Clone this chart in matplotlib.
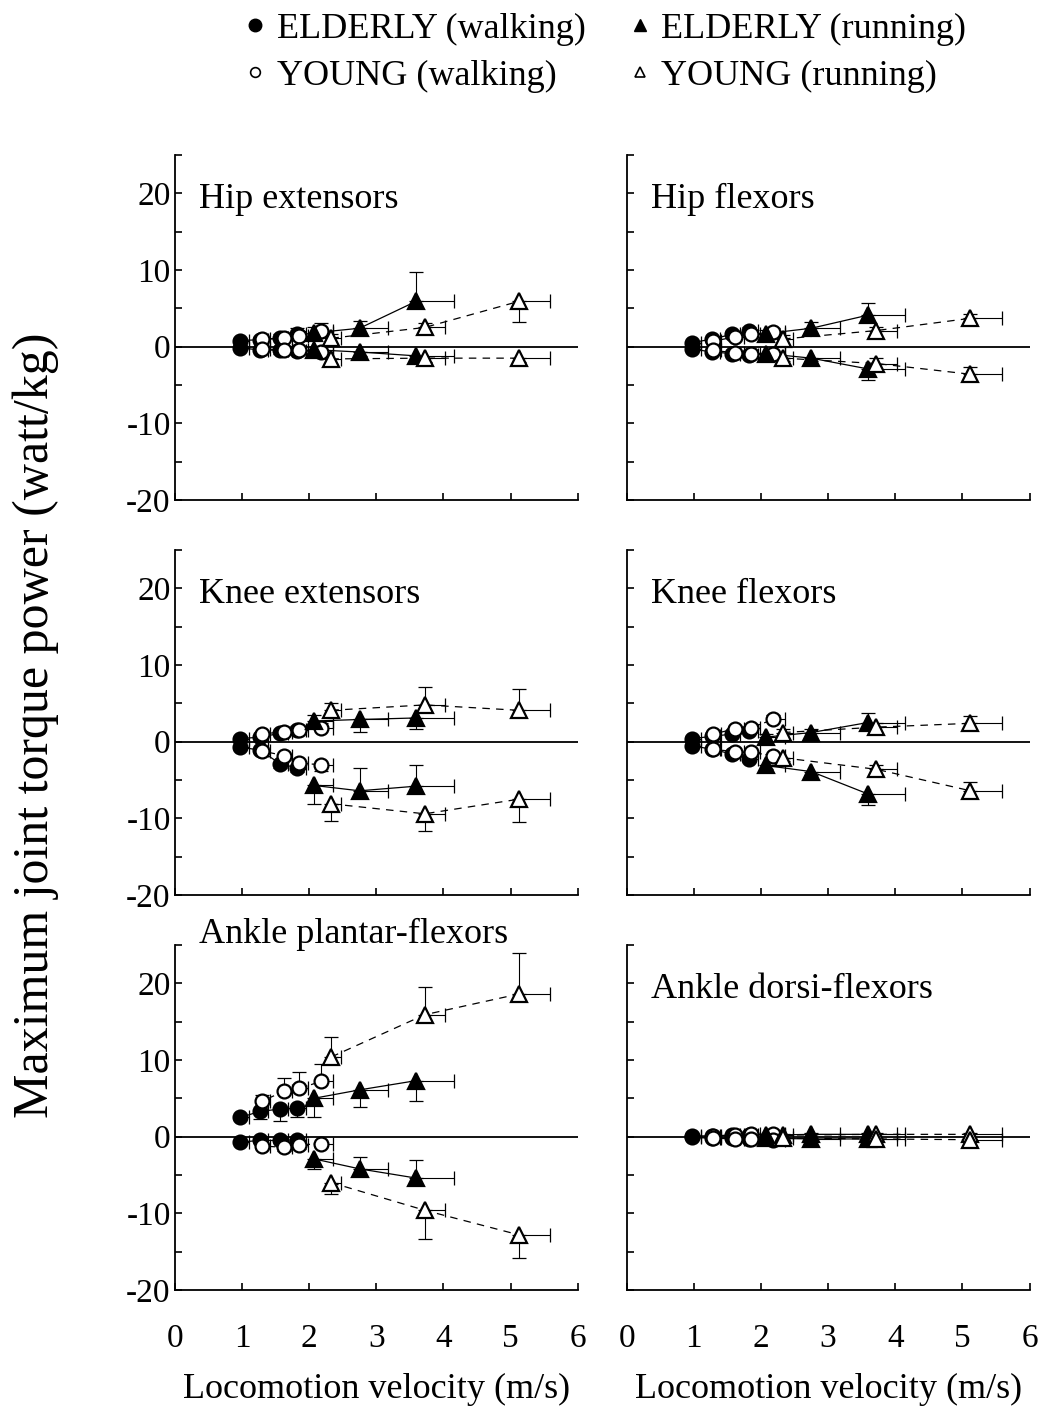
import matplotlib.pyplot as plt
from matplotlib.lines import Line2D

plt.rcParams['font.family'] = ['Liberation Serif', 'DejaVu Serif']

PANELS = ['Hip extensors', 'Hip flexors', 'Knee extensors', 'Knee flexors',
          'Ankle plantar-flexors', 'Ankle dorsi-flexors']

# locomotion velocities (m/s) and their SD
EW_V = [0.97, 1.27, 1.57, 1.82]
EW_VSD = [0.14, 0.12, 0.12, 0.13]
YW_V = [1.29, 1.62, 1.85, 2.18]
YW_VSD = [0.12, 0.12, 0.13, 0.18]
ER_V = [2.07, 2.75, 3.59]
ER_VSD = [0.29, 0.42, 0.56]
YR_V = [2.33, 3.72, 5.12]
YR_VSD = [0.15, 0.31, 0.47]

# peak powers per panel (watt/kg); SD sign = side the bar is drawn on
EW_POS = [[0.8, 0.9, 1.1, 1.6], [0.5, 1.0, 1.6, 2.1], [0.4, 0.6, 1.1, 1.5],
          [0.4, 0.7, 1.0, 1.4], [2.5, 3.3, 3.6, 3.7], [0.1, 0.1, 0.2, 0.2]]
EW_POS_SD = [[0.3, 0.4, 0.5, 0.8], [0.3, 0.3, 0.4, 0.4], [0.3, 0.3, 0.4, 0.5],
             [0.3, 0.3, 0.4, 0.4], [-0.3, -1.0, -1.5, -1.1], [0.2, 0.2, 0.2, 0.2]]
EW_NEG = [[-0.2, -0.4, -0.5, -0.6], [-0.3, -0.7, -0.9, -1.1], [-0.7, -1.1, -2.9, -3.4],
          [-0.5, -1.0, -1.6, -2.2], [-0.7, -0.5, -0.5, -0.4], [-0.1, -0.2, -0.2, -0.3]]
EW_NEG_SD = [[-0.3, -0.3, -0.4, -0.4], [-0.3, -0.3, -0.3, -0.3], [-0.4, -0.4, -0.5, -0.6],
             [-0.3, -0.4, -0.4, -0.5], [-0.3, -0.3, -0.3, -0.3], [-0.2, -0.2, -0.2, -0.2]]

YW_POS = [[1.0, 1.1, 1.4, 2.1], [0.7, 1.3, 1.6, 1.9], [1.0, 1.3, 1.5, 1.8],
          [1.0, 1.7, 1.8, 2.9], [4.6, 5.9, 6.3, 7.2], [0.1, 0.2, 0.3, 0.3]]
YW_POS_SD = [[0.3, 0.5, 0.6, 1.0], [0.3, 0.4, 0.5, 0.5], [0.3, 0.4, 0.5, 0.6],
             [0.3, 0.4, 0.5, 0.6], [0.8, 1.8, 2.1, 2.3], [0.2, 0.2, 0.2, 0.2]]
YW_NEG = [[-0.3, -0.4, -0.5, -0.7], [-0.5, -0.8, -0.9, -0.9], [-1.2, -1.8, -2.8, -3.0],
          [-1.0, -1.3, -1.4, -1.8], [-1.2, -1.4, -1.1, -0.9], [-0.2, -0.3, -0.3, -0.4]]
YW_NEG_SD = [[-0.3, -0.3, -0.4, -0.5], [-0.3, -0.3, -0.3, -0.4], [-0.4, -0.6, -0.8, -0.8],
             [-0.3, -0.4, -0.4, -0.5], [-0.4, -0.5, -0.5, -0.5], [-0.2, -0.2, -0.2, -0.2]]

ER_POS = [[1.8, 2.4, 5.9], [1.7, 2.4, 4.1], [2.7, 2.9, 3.1],
          [0.6, 1.2, 2.5], [5.0, 6.1, 7.3], [0.2, 0.3, 0.3]]
ER_POS_SD = [[0.8, 0.9, 3.8], [0.5, 0.8, 1.6], [0.8, -1.6, -1.5],
             [0.4, 0.4, 1.2], [-2.4, -2.2, -2.7], [0.2, 0.2, 0.2]]
ER_NEG = [[-0.4, -0.7, -1.2], [-0.9, -1.5, -2.9], [-5.7, -6.4, -5.8],
          [-3.1, -3.9, -6.8], [-2.9, -4.2, -5.4], [-0.2, -0.3, -0.3]]
ER_NEG_SD = [[-0.4, -0.5, -0.5], [-0.4, -0.4, -1.4], [-2.4, 3.0, 2.8],
             [-0.4, -0.5, -1.5], [-1.3, 1.6, 2.4], [-0.2, -0.2, -0.2]]

YR_POS = [[1.1, 2.5, 5.9], [1.0, 2.1, 3.7], [4.1, 4.8, 4.1],
          [1.2, 1.9, 2.4], [10.4, 15.9, 18.6], [0.2, 0.3, 0.3]]
YR_POS_SD = [[0.5, 0.6, -2.7], [0.5, 0.5, 0.5], [1.0, 2.3, 2.8],
             [0.4, 0.5, 0.9], [2.6, 3.6, 5.3], [0.2, 0.2, 0.2]]
YR_NEG = [[-1.6, -1.5, -1.5], [-1.5, -2.2, -3.6], [-8.1, -9.4, -7.5],
          [-2.1, -3.6, -6.4], [-6.0, -9.6, -12.8], [-0.2, -0.3, -0.4]]
YR_NEG_SD = [[-0.7, -0.5, -0.5], [-0.4, 0.7, 0.9], [-2.2, -2.2, -3.0],
             [-0.4, 0.6, 1.1], [-1.5, -3.8, -3.0], [-0.2, -0.2, -0.2]]

LEGEND = ['ELDERLY (walking)', 'YOUNG (walking)', 'ELDERLY (running)', 'YOUNG (running)']


def one_side(sd):
    lo = [-s if s < 0 else 0 for s in sd]
    hi = [s if s > 0 else 0 for s in sd]
    return [lo, hi]


def draw(ax, x, xsd, y, ysd, marker, filled, ls, ms):
    ax.plot(x, y, color='black', ls=ls, lw=0.9, zorder=2)
    ax.errorbar(x, y, xerr=[[0] * len(x), xsd], yerr=one_side(ysd), fmt='none',
                ecolor='black', elinewidth=0.8, capsize=5, capthick=0.9, zorder=3)
    ax.plot(x, y, ls='none', marker=marker, ms=ms, mec='black', mew=1.6,
            mfc='black' if filled else 'white', zorder=4)


fig = plt.figure(figsize=(10.41, 14.14), dpi=100)
lefts = [0.168, 0.602]
bottoms = [0.6464, 0.367, 0.0877]
w, h = 0.387, 0.244

for i, name in enumerate(PANELS):
    r, c = divmod(i, 2)
    ax = fig.add_axes([lefts[c], bottoms[r], w, h])
    ax.axhline(0, color='black', lw=1.3, zorder=1)

    draw(ax, EW_V, EW_VSD, EW_POS[i], EW_POS_SD[i], 'o', True, '-', 10)
    draw(ax, EW_V, EW_VSD, EW_NEG[i], EW_NEG_SD[i], 'o', True, '-', 10)
    draw(ax, YW_V, YW_VSD, YW_POS[i], YW_POS_SD[i], 'o', False, (0, (4, 3)), 10)
    draw(ax, YW_V, YW_VSD, YW_NEG[i], YW_NEG_SD[i], 'o', False, (0, (4, 3)), 10)
    draw(ax, ER_V, ER_VSD, ER_POS[i], ER_POS_SD[i], '^', True, '-', 11)
    draw(ax, ER_V, ER_VSD, ER_NEG[i], ER_NEG_SD[i], '^', True, '-', 11)
    draw(ax, YR_V, YR_VSD, YR_POS[i], YR_POS_SD[i], '^', False, (0, (6, 5)), 11)
    draw(ax, YR_V, YR_VSD, YR_NEG[i], YR_NEG_SD[i], '^', False, (0, (6, 5)), 11)

    ax.set_xlim(0, 6)
    ax.set_ylim(-20, 25)
    ax.set_xticks(range(0, 7))
    ax.set_yticks([-20, -10, 0, 10, 20])
    ax.set_yticks([-15, -5, 5, 15, 25], minor=True)
    ax.tick_params(direction='in', length=5, width=1.2, labelsize=24)
    ax.tick_params(axis='y', pad=3)
    ax.tick_params(axis='x', pad=24)
    ax.tick_params(which='minor', direction='in', length=5, width=1.2)
    ax.set_yticklabels(['-20', '-10', '0', '10', '20'])
    if c == 1:
        ax.set_yticklabels([])
    if r < 2:
        ax.set_xticklabels([])
    else:
        ax.set_xlabel('Locomotion velocity (m/s)', fontsize=26, labelpad=14)
    for s in ['top', 'right']:
        ax.spines[s].set_visible(False)
    for s in ['left', 'bottom']:
        ax.spines[s].set_linewidth(1.3)

    ty = 1.03 if name == 'Ankle plantar-flexors' else 0.87
    ax.text(0.06, ty, name, transform=ax.transAxes, fontsize=26, va='center', ha='left')

fig.text(0.034, 0.487, 'Maximum joint torque power (watt/kg)', rotation=90,
         fontsize=36, va='center', ha='center')

handles = [
    Line2D([], [], ls='none', marker='o', ms=9, mfc='black', mec='black'),
    Line2D([], [], ls='none', marker='o', ms=7, mfc='white', mec='black', mew=1.2),
    Line2D([], [], ls='none', marker='^', ms=9, mfc='black', mec='black'),
    Line2D([], [], ls='none', marker='^', ms=7, mfc='white', mec='black', mew=1.2),
]
fig.legend(handles, LEGEND, loc='upper center', bbox_to_anchor=(0.578, 1.014), ncol=2,
           frameon=False, fontsize=26, handletextpad=0.1, columnspacing=1.0,
           labelspacing=0.38, handlelength=1.0)

fig.savefig('out.png', dpi=100)
